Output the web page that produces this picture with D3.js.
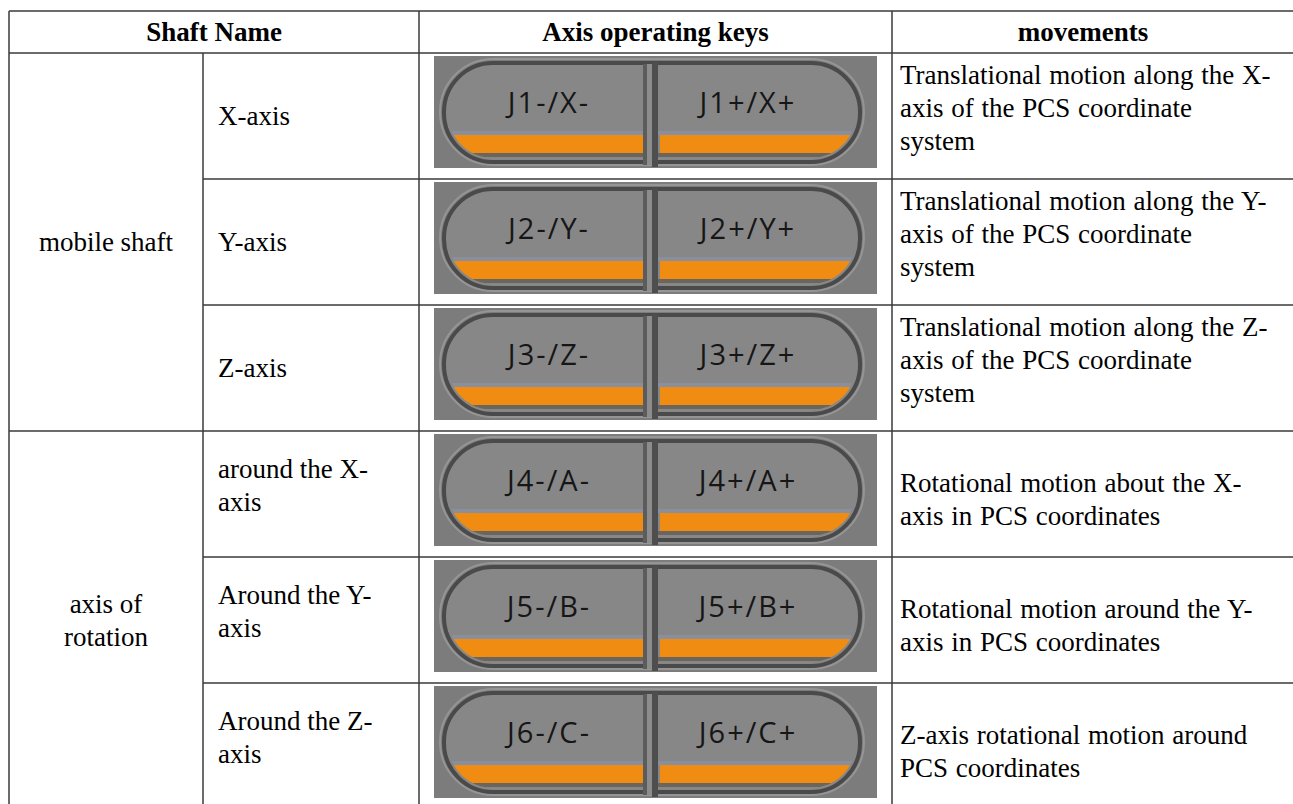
<!DOCTYPE html>
<html>
<head>
<meta charset="utf-8">
<script src="https://cdn.jsdelivr.net/npm/d3@7/dist/d3.min.js"></script>
<style>
  html, body { margin: 0; padding: 0; background: #ffffff; }
  svg { display: block; }
</style>
</head>
<body>
<svg id="chart" width="1293" height="804"></svg>
<script>
// ---- data ----
const headers = ["Shaft Name", "Axis operating keys", "movements"];
const groupNames = [["mobile shaft"], ["axis of", "rotation"]];
const groupRows = [3, 3];
const axisNames = [
  ["X-axis"], ["Y-axis"], ["Z-axis"],
  ["around the X-", "axis"], ["Around the Y-", "axis"], ["Around the Z-", "axis"]
];
const keyMinus = ["J1-/X-", "J2-/Y-", "J3-/Z-", "J4-/A-", "J5-/B-", "J6-/C-"];
const keyPlus = ["J1+/X+", "J2+/Y+", "J3+/Z+", "J4+/A+", "J5+/B+", "J6+/C+"];
const movements = [
  ["Translational motion along the X-", "axis of the PCS coordinate", "system"],
  ["Translational motion along the Y-", "axis of the PCS coordinate", "system"],
  ["Translational motion along the Z-", "axis of the PCS coordinate", "system"],
  ["Rotational motion about the X-", "axis in PCS coordinates"],
  ["Rotational motion around the Y-", "axis in PCS coordinates"],
  ["Z-axis rotational motion around", "PCS coordinates"]
];

// ---- layout ----
const svg = d3.select("#chart");
const W = 1293, H = 804;
const headTop = 11, headBottom = 53;
const nRows = axisNames.length;
const rowY = d3.scaleLinear().domain([0, nRows]).range([headBottom, headBottom + 126 * nRows]);
const colX = [9, 203, 419, 892, 1300];
const lineH = 33;
const serif = "'Liberation Serif', 'Times New Roman', serif";
const fs = 27;
const lineColor = "#3a3a3a";

const gLines = svg.append("g");
const gText = svg.append("g").attr("font-family", serif).attr("font-size", fs).attr("fill", "#000");

// header
gText.selectAll("text.head").data(headers).join("text")
  .attr("class", "head")
  .attr("font-weight", "bold")
  .attr("text-anchor", "middle")
  .attr("dominant-baseline", "central")
  .attr("x", (d, i) => i === 0 ? (colX[0] + colX[2]) / 2 : i === 1 ? (colX[2] + colX[3]) / 2 : 1083)
  .attr("y", (headTop + headBottom) / 2)
  .text(d => d);

// group names (column 1)
let acc = 0;
groupNames.forEach((lines, gi) => {
  const r0 = acc, r1 = acc + groupRows[gi];
  acc = r1;
  const cy = (rowY(r0) + rowY(r1)) / 2;
  const cx = (colX[0] + colX[1]) / 2;
  lines.forEach((t, li) => {
    gText.append("text")
      .attr("text-anchor", "middle")
      .attr("dominant-baseline", "central")
      .attr("x", cx)
      .attr("y", cy + (li - (lines.length - 1) / 2) * lineH)
      .text(t);
  });
});

// axis names (column 2)
const off2 = {1: 63, 2: 38};
axisNames.forEach((lines, ri) => {
  lines.forEach((t, li) => {
    gText.append("text")
      .attr("dominant-baseline", "central")
      .attr("x", colX[1] + 15)
      .attr("y", rowY(ri) + off2[lines.length] + li * lineH)
      .text(t);
  });
});

// movements (column 4)
const off4 = {2: 52, 3: 22};
movements.forEach((lines, ri) => {
  lines.forEach((t, li) => {
    gText.append("text")
      .attr("dominant-baseline", "central")
      .attr("x", colX[3] + 8)
      .attr("y", rowY(ri) + off4[lines.length] + li * lineH)
      .attr("word-spacing", 1)
      .text(t);
  });
});

// buttons (column 3)
const defs = svg.append("defs");
const bw = 443, bh = 112;
const gBtn = svg.append("g");
const sans = "'Open Sans', 'DejaVu Sans', sans-serif";
keyMinus.forEach((km, ri) => {
  const bx = colX[2] + 15, by = rowY(ri) + 3;
  const g = gBtn.append("g").attr("transform", `translate(${bx},${by})`);
  const cid = "clip" + ri;
  defs.append("clipPath").attr("id", cid)
    .append("rect").attr("x", 14).attr("y", 12).attr("width", 408).attr("height", 90).attr("rx", 45).attr("ry", 45);
  // background
  g.append("rect").attr("width", bw).attr("height", bh).attr("fill", "#7c7c7c");
  // outer light halo
  g.append("rect").attr("x", 6).attr("y", 3).attr("width", 424).attr("height", 106)
    .attr("rx", 53).attr("ry", 53).attr("fill", "none").attr("stroke", "#959595").attr("stroke-width", 2);
  // pill face
  g.append("rect").attr("x", 10).attr("y", 7).attr("width", 416).attr("height", 99)
    .attr("rx", 49).attr("ry", 49).attr("fill", "#878787").attr("stroke", "#4a4a4a").attr("stroke-width", 4);
  // orange bands
  const band = g.append("g").attr("clip-path", `url(#${cid})`);
  band.append("rect").attr("x", 0).attr("y", 75).attr("width", bw).attr("height", 4).attr("fill", "#8a8f9e");
  band.append("rect").attr("x", 0).attr("y", 79).attr("width", 210).attr("height", 18).attr("fill", "#f08c12");
  band.append("rect").attr("x", 226).attr("y", 79).attr("width", 220).attr("height", 18).attr("fill", "#f08c12");
  band.append("rect").attr("x", 0).attr("y", 97).attr("width", bw).attr("height", 4).attr("fill", "#6a665e");
  // divider
  g.append("rect").attr("x", 209).attr("y", 8).attr("width", 4).attr("height", 101).attr("fill", "#5c5c5c");
  g.append("rect").attr("x", 213).attr("y", 8).attr("width", 5).attr("height", 101).attr("fill", "#8c8c8c");
  g.append("rect").attr("x", 218).attr("y", 6).attr("width", 6).attr("height", 105).attr("fill", "#4e4e4e");
  // labels
  [[km, 115], [keyPlus[ri], 314]].forEach(([t, cx]) => {
    g.append("text").attr("x", cx).attr("y", 45)
      .attr("text-anchor", "middle").attr("dominant-baseline", "central")
      .attr("font-family", sans).attr("font-size", 29).attr("font-weight", 500)
      .attr("letter-spacing", 2).attr("fill", "#161616")
      .text(t);
  });
});

// grid lines
const hl = (x1, x2, y) => gLines.append("line").attr("x1", x1).attr("x2", x2).attr("y1", y).attr("y2", y)
  .attr("stroke", lineColor).attr("stroke-width", 1.5);
const vl = (x, y1, y2) => gLines.append("line").attr("x1", x).attr("x2", x).attr("y1", y1).attr("y2", y2)
  .attr("stroke", lineColor).attr("stroke-width", 1.5);
hl(colX[0], W, headTop);
hl(colX[0], W, headBottom);
acc = 0;
const groupStarts = new Set();
groupRows.forEach(n => { groupStarts.add(acc); acc += n; });
d3.range(1, nRows).forEach(r => {
  hl(groupStarts.has(r) ? colX[0] : colX[1], W, rowY(r));
});
vl(colX[0], headTop, H);
vl(colX[1], headBottom, H);
vl(colX[2], headTop, H);
vl(colX[3], headTop, H);
gLines.raise();
</script>
</body>
</html>
